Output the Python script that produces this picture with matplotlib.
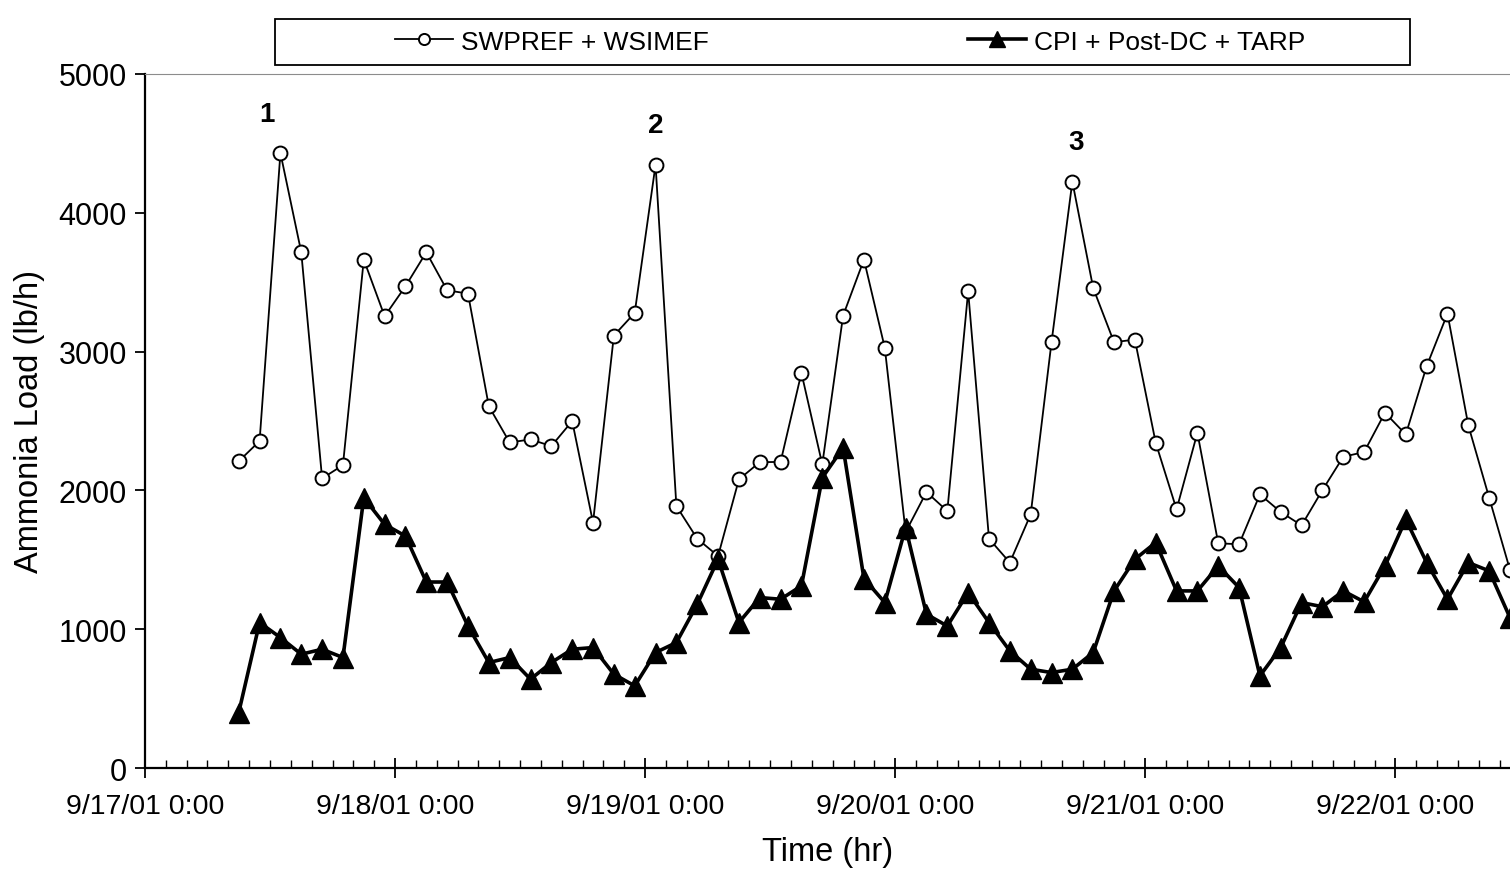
import matplotlib
matplotlib.use('Agg')
import matplotlib.pyplot as plt
import matplotlib.dates as mdates
from matplotlib.patches import Rectangle
import pandas as pd

plt.rcParams['font.family'] = ['Liberation Sans', 'DejaVu Sans']

# sampling: every 2 hours, 9/17/01 9:00 -> 9/22/01 11:00
times = pd.date_range('2001-09-17 09:00', periods=62, freq='2h')

swpref_wsimef = [2210, 2355, 4430, 3715, 2086, 2182, 3662, 3254, 3470, 3715,
                 3441, 3417, 2606, 2345, 2367, 2319, 2499, 1768, 3115, 3278,
                 4345, 1887, 1652, 1527, 2079, 2203, 2205, 2846, 2187, 3259,
                 3662, 3027, 1700, 1988, 1851, 3434, 1652, 1480, 1827, 3067,
                 4224, 3457, 3067, 3086, 2343, 1863, 2415, 1619, 1612, 1971,
                 1844, 1748, 2002, 2242, 2276, 2559, 2403, 2894, 3273, 2468,
                 1947, 1427]

cpi_postdc_tarp = [400, 1048, 940, 820, 856, 796, 1947, 1755, 1671, 1340,
                   1340, 1023, 760, 796, 640, 760, 856, 868, 676, 592,
                   832, 904, 1180, 1504, 1048, 1228, 1216, 1312, 2091, 2307,
                   1365, 1192, 1732, 1108, 1023, 1264, 1048, 844, 712, 688,
                   712, 832, 1276, 1504, 1624, 1276, 1276, 1456, 1300, 664,
                   868, 1192, 1162, 1276, 1197, 1456, 1791, 1480, 1216, 1480,
                   1420, 1083]

peak_idx = [2, 20, 40]
peak_labels = ['1', '2', '3']
peak_dx = [-10, 0, 3]

fig = plt.figure(figsize=(15.1, 8.7), dpi=100)
ax = fig.add_axes([0.096, 0.116, 0.904, 0.798])

l1, = ax.plot(times, swpref_wsimef, color='black', lw=1.3, marker='o',
              markersize=10, markerfacecolor='white', markeredgecolor='black',
              markeredgewidth=1.4, clip_on=False, zorder=3)
l2, = ax.plot(times, cpi_postdc_tarp, color='black', lw=2.6, marker='^',
              markersize=14, markerfacecolor='black', clip_on=False, zorder=4)

for i, lab, dx in zip(peak_idx, peak_labels, peak_dx):
    ax.annotate(lab, (times[i], swpref_wsimef[i]), xytext=(dx, 19),
                textcoords='offset points', ha='center', va='bottom',
                fontsize=20, fontweight='bold')

x0 = pd.Timestamp('2001-09-17 00:00')
ax.set_xlim(x0, x0 + pd.Timedelta(hours=131))
ax.set_ylim(0, 5000)
ax.set_yticks(range(0, 5001, 1000))

ax.xaxis.set_major_locator(mdates.DayLocator())
ax.xaxis.set_minor_locator(mdates.HourLocator(byhour=range(0, 24, 2)))


def fmt(x, pos):
    d = mdates.num2date(x)
    return f'{d.month}/{d.day}/{d:%y} {d.hour}:{d:%M}'


ax.xaxis.set_major_formatter(plt.FuncFormatter(fmt))
ax.tick_params(axis='x', which='major', direction='inout', length=14, width=1.3,
               labelsize=20.5, pad=11)
ax.tick_params(axis='y', which='major', direction='out', length=7, width=1.3,
               labelsize=22, pad=6)
ax.tick_params(axis='x', which='minor', direction='in', length=6, width=1)

ax.spines['right'].set_visible(False)
ax.spines['top'].set_color('0.55')
ax.spines['top'].set_linewidth(0.8)
ax.spines['left'].set_linewidth(1.6)
ax.spines['bottom'].set_linewidth(1.6)

ax.set_xlabel('Time (hr)', fontsize=23.5, labelpad=12)
ax.set_ylabel('Ammonia Load (lb/h)', fontsize=23.5, labelpad=10)

# legend box at the top
fig.patches.append(Rectangle((0.182, 0.924), 0.752, 0.053, transform=fig.transFigure,
                             fill=False, edgecolor='black', lw=1.3))
fig.legend([l1, l2], ['SWPREF + WSIMEF', 'CPI + Post-DC + TARP'], ncol=2,
           loc='center', bbox_to_anchor=(0.563, 0.951), frameon=False,
           fontsize=19, columnspacing=9.8, handlelength=2.2, handletextpad=0.3,
           markerscale=0.8)

fig.savefig('out.png', dpi=100)
